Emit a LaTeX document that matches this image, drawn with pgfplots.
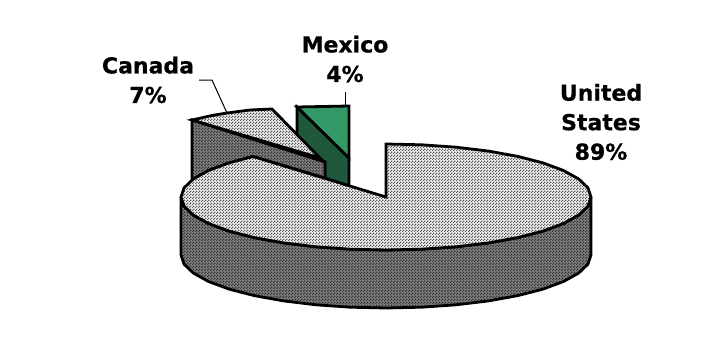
\documentclass[border=0pt]{standalone}
\usepackage{fontspec}
\setmainfont{DejaVu Sans}[BoldFeatures={FakeBold=0.6}]
\usepackage{pgfplots}
\usepackage{pgfplotstable}
\pgfplotsset{compat=1.18}
\usetikzlibrary{patterns}
% Fine checker used on the shaded pie faces
\pgfdeclarepatternformonly{checker}{\pgfqpoint{0pt}{0pt}}{\pgfqpoint{3pt}{3pt}}{\pgfqpoint{3pt}{3pt}}{%
  \pgfpathrectangle{\pgfqpoint{0pt}{0pt}}{\pgfqpoint{1.5pt}{1.5pt}}%
  \pgfpathrectangle{\pgfqpoint{1.5pt}{1.5pt}}{\pgfqpoint{1.5pt}{1.5pt}}%
  \pgfusepath{fill}}
\definecolor{mexlight}{RGB}{51,153,102}
\definecolor{mexdark}{RGB}{31,88,60}
\definecolor{facelightA}{gray}{0.95}
\definecolor{facelightB}{gray}{0.35}
\definecolor{facedarkA}{gray}{0.50}
\definecolor{facedarkB}{gray}{0.20}
\tikzset{
  edge/.style={draw=black,line width=2.8pt,line join=miter,miter limit=6},
  lab/.style={font=\fontsize{22}{29.5}\selectfont\bfseries,align=center,text=black,inner sep=0pt,anchor=center},
}
% Outlines of the slice faces
\pgfplotstableread{
x y
192 120
325 162
325 178
253 156.5
229 163
208.5 170.5
192 180
}\canadaside
\pgfplotstableread{
x y
192 120
212 115.5
227 113
250 110
272 109
320 158
}\canadatop
\pgfplotstableread{
x y
591 197
587.9 206.2
578.6 215.1
563.5 223.5
543 231.1
517.8 237.6
488.5 242.9
456.1 246.8
421.6 249.2
386 250
350.4 249.2
315.9 246.8
283.5 242.9
254.2 237.6
229 231.1
208.5 223.5
193.4 215.1
184.1 206.2
181 197
181 255
184.1 264.2
193.4 273.1
208.5 281.5
229 289.1
254.2 295.6
283.5 300.9
315.9 304.8
350.4 307.2
386 308
421.6 307.2
456.1 304.8
488.5 300.9
517.8 295.6
543 289.1
563.5 281.5
578.6 273.1
587.9 264.2
591 255
}\usside
\pgfplotstableread{
x y
386 197
386 144
421.6 144.8
456.1 147.2
488.5 151.1
517.8 156.4
543 162.9
563.5 170.5
578.6 178.9
587.9 187.8
591 197
587.9 206.2
578.6 215.1
563.5 223.5
543 231.1
517.8 237.6
488.5 242.9
456.1 246.8
421.6 249.2
386 250
350.4 249.2
315.9 246.8
283.5 242.9
254.2 237.6
229 231.1
208.5 223.5
193.4 215.1
184.1 206.2
181 197
184.1 187.8
193.4 178.9
208.5 170.5
229 162.9
253 156.5
}\ustop
% One shaded face: base colour, checker, outline
\newcommand{\shadedface}[3]{%
  \addplot[draw=none,fill=#2] table {#1} --cycle;
  \addplot[draw=none,pattern=checker,pattern color=#3] table {#1} --cycle;
  \addplot[edge] table {#1} --cycle;
}
\begin{document}
\begin{tikzpicture}
\begin{axis}[
  scale only axis,width=717pt,height=361pt,
  xmin=0,xmax=717,ymin=0,ymax=361,y dir=reverse,
  hide axis,clip=false,
]
% Leader lines
\addplot[black,line width=1pt] coordinates {(199,80)(212,80)(227,113)};
\addplot[black,line width=1pt] coordinates {(345,92)(345,106)};
% Mexico slice
\addplot[edge,fill=mexdark] coordinates {(297,107)(349,158)(349,186)(325,178)(325,162)(297,150)} --cycle;
\addplot[edge,fill=mexlight] coordinates {(297,107)(323,106.5)(349,106)(349,158)} --cycle;
% Canada slice
\shadedface{\canadaside}{facedarkA}{facedarkB}
\shadedface{\canadatop}{facelightA}{facelightB}
% United States slice
\shadedface{\usside}{facedarkA}{facedarkB}
\shadedface{\ustop}{facelightA}{facelightB}
% Slice labels
\node[lab] at (axis cs:345,59) {Mexico\\4\%};
\node[lab] at (axis cs:148,80) {Canada\\7\%};
\node[lab] at (axis cs:601,122) {United\\States\\89\%};
% Page extent
\path[use as bounding box] (axis cs:0,0) rectangle (axis cs:717,361);
\end{axis}
\end{tikzpicture}
\end{document}
